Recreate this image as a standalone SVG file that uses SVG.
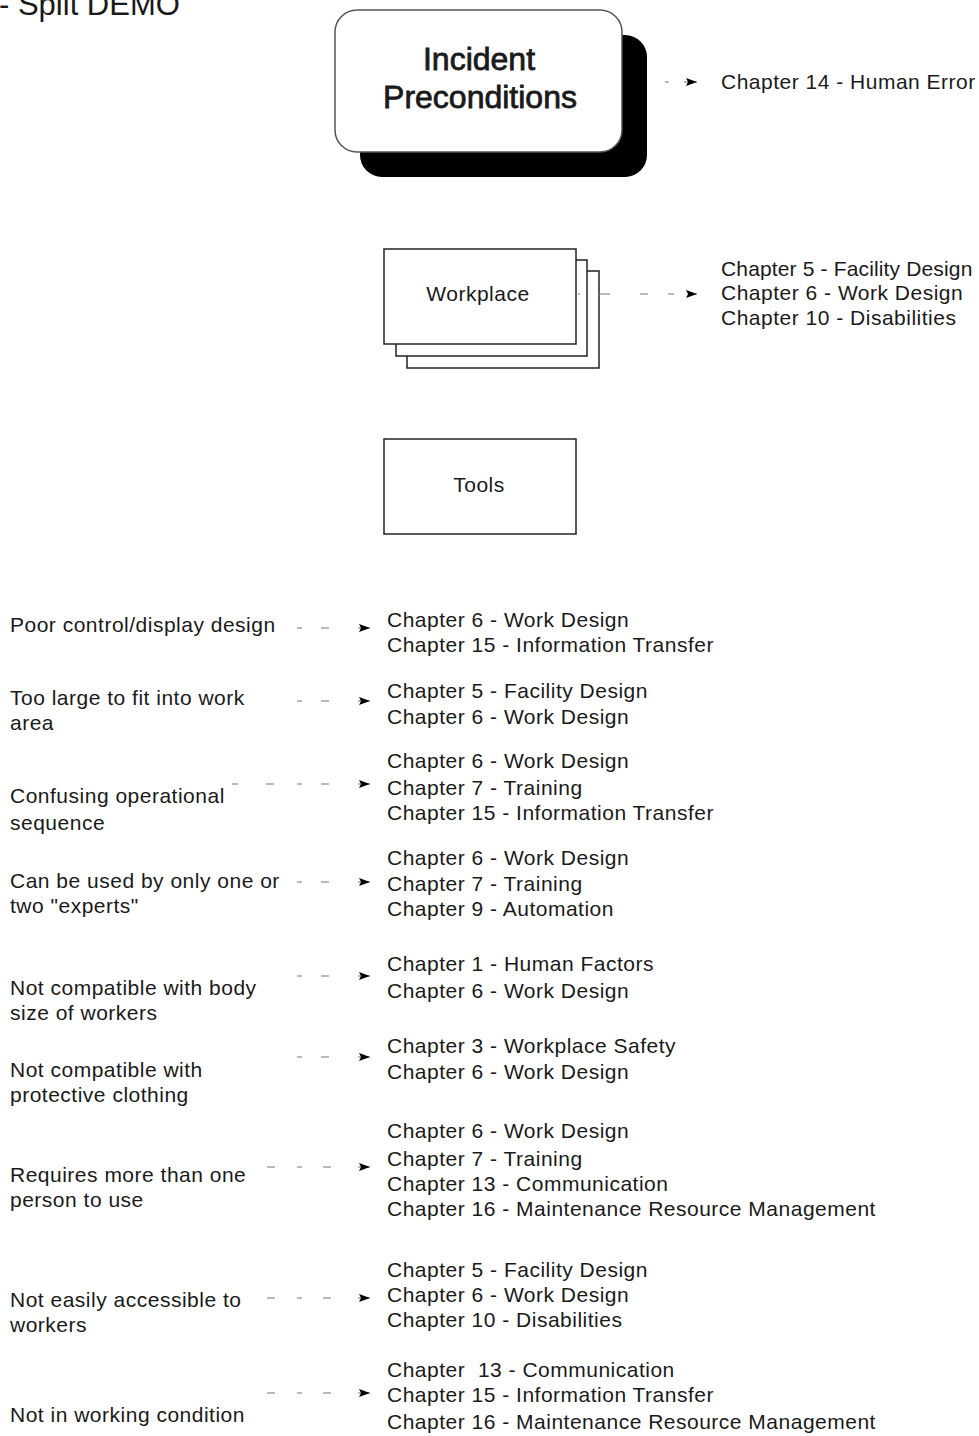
<svg xmlns="http://www.w3.org/2000/svg" width="979" height="1436" viewBox="0 0 979 1436">
  <style>
    text { font-family: "Liberation Sans", Arial, sans-serif; fill: #1a1a1a; }
    .t { font-size: 21px; letter-spacing: 0.5px; }
    .tight { letter-spacing: 0.15px; }
    .title { font-size: 32px; text-anchor: middle; stroke: #1a1a1a; stroke-width: 0.8px; }
    .lbl { font-size: 21px; letter-spacing: 0.5px; text-anchor: middle; }
    .box { fill: #fff; stroke: #222; stroke-width: 1.5; }
    .dots { fill: none; stroke: #777; stroke-width: 1.2; }
    .head { fill: #000; }
  </style>
  <defs>
    <marker id="arrow" viewBox="0 0 11 8" refX="11" refY="4" markerWidth="11" markerHeight="8" markerUnits="userSpaceOnUse" orient="auto">
      <path class="head" d="M0,0 L11,4 L0,8 L2,4 z"/>
    </marker>
  </defs>
  <rect width="979" height="1436" fill="#fff"/>

  <text x="-1" y="15" font-size="31">- Split DEMO</text>

  <!-- main node with drop shadow -->
  <g id="node-incident">
    <rect x="360" y="35" width="287" height="142" rx="22" fill="#000"/>
    <rect x="335" y="10" width="287" height="142" rx="22" fill="#fff" stroke="#555" stroke-width="1.5"/>
    <text class="title" x="479" y="70">Incident</text>
    <text class="title" x="480" y="108">Preconditions</text>
  </g>

  <!-- stacked node -->
  <g id="node-workplace">
    <rect class="box" x="407" y="271" width="192" height="97"/>
    <rect class="box" x="396" y="260" width="191" height="96"/>
    <rect class="box" x="384" y="249" width="192" height="95"/>
    <text class="lbl" x="478" y="301">Workplace</text>
  </g>

  <g id="node-tools">
    <rect class="box" x="384" y="439" width="192" height="95"/>
    <text class="lbl" x="479" y="492">Tools</text>
  </g>

  <!-- chapter references -->
  <g id="refs-incident">
    <text class="t" x="721" y="89">Chapter 14 - Human Error</text>
  </g>
  <g id="refs-workplace">
    <text class="t tight" x="721" y="276">Chapter 5 - Facility Design</text>
    <text class="t" x="721" y="300">Chapter 6 - Work Design</text>
    <text class="t" x="721" y="325">Chapter 10 - Disabilities</text>
  </g>

  <!-- tool problems -->
  <g id="item-1">
    <text class="t" x="10" y="632">Poor control/display design</text>
    <text class="t" x="387" y="627">Chapter 6 - Work Design</text>
    <text class="t" x="387" y="652">Chapter 15 - Information Transfer</text>
  </g>
  <g id="item-2">
    <text class="t" x="10" y="705">Too large to fit into work</text>
    <text class="t" x="10" y="730">area</text>
    <text class="t" x="387" y="698">Chapter 5 - Facility Design</text>
    <text class="t" x="387" y="724">Chapter 6 - Work Design</text>
  </g>
  <g id="item-3">
    <text class="t" x="10" y="803">Confusing operational</text>
    <text class="t" x="10" y="830">sequence</text>
    <text class="t" x="387" y="768">Chapter 6 - Work Design</text>
    <text class="t" x="387" y="795">Chapter 7 - Training</text>
    <text class="t" x="387" y="820">Chapter 15 - Information Transfer</text>
  </g>
  <g id="item-4">
    <text class="t" x="10" y="888">Can be used by only one or</text>
    <text class="t" x="10" y="913">two "experts"</text>
    <text class="t" x="387" y="865">Chapter 6 - Work Design</text>
    <text class="t" x="387" y="891">Chapter 7 - Training</text>
    <text class="t" x="387" y="916">Chapter 9 - Automation</text>
  </g>
  <g id="item-5">
    <text class="t" x="10" y="995">Not compatible with body</text>
    <text class="t" x="10" y="1020">size of workers</text>
    <text class="t" x="387" y="971">Chapter 1 - Human Factors</text>
    <text class="t" x="387" y="998">Chapter 6 - Work Design</text>
  </g>
  <g id="item-6">
    <text class="t" x="10" y="1077">Not compatible with</text>
    <text class="t" x="10" y="1102">protective clothing</text>
    <text class="t" x="387" y="1053">Chapter 3 - Workplace Safety</text>
    <text class="t" x="387" y="1079">Chapter 6 - Work Design</text>
  </g>
  <g id="item-7">
    <text class="t" x="10" y="1182">Requires more than one</text>
    <text class="t" x="10" y="1207">person to use</text>
    <text class="t" x="387" y="1138">Chapter 6 - Work Design</text>
    <text class="t" x="387" y="1166">Chapter 7 - Training</text>
    <text class="t" x="387" y="1191">Chapter 13 - Communication</text>
    <text class="t" x="387" y="1216">Chapter 16 - Maintenance Resource Management</text>
  </g>
  <g id="item-8">
    <text class="t" x="10" y="1307">Not easily accessible to</text>
    <text class="t" x="10" y="1332">workers</text>
    <text class="t" x="387" y="1277">Chapter 5 - Facility Design</text>
    <text class="t" x="387" y="1302">Chapter 6 - Work Design</text>
    <text class="t" x="387" y="1327">Chapter 10 - Disabilities</text>
  </g>
  <g id="item-9">
    <text class="t" x="10" y="1422">Not in working condition</text>
    <text class="t" x="387" y="1377">Chapter&#160; 13 - Communication</text>
    <text class="t" x="387" y="1402">Chapter 15 - Information Transfer</text>
    <text class="t" x="387" y="1429">Chapter 16 - Maintenance Resource Management</text>
  </g>

  <!-- dotted connectors ending in arrowheads -->
  <g id="connectors">
    <path class="dots" d="M665,82h4 M684,82h13" marker-end="url(#arrow)"/>
    <path class="dots" d="M578,294h2 M598,294h12 M640,294h8 M668,294h6 M688,294h9" marker-end="url(#arrow)"/>
    <path class="dots" d="M297,628h5 M321,628h8 M358,628h12" marker-end="url(#arrow)"/>
    <path class="dots" d="M297,701h5 M321,701h8 M358,701h12" marker-end="url(#arrow)"/>
    <path class="dots" d="M232,784h6 M266,784h8 M297,784h5 M321,784h8 M358,784h12" marker-end="url(#arrow)"/>
    <path class="dots" d="M297,882h5 M321,882h8 M358,882h12" marker-end="url(#arrow)"/>
    <path class="dots" d="M297,976h5 M321,976h8 M358,976h12" marker-end="url(#arrow)"/>
    <path class="dots" d="M297,1057h5 M321,1057h8 M358,1057h12" marker-end="url(#arrow)"/>
    <path class="dots" d="M267,1167h8 M297,1167h5 M323,1167h8 M358,1167h12" marker-end="url(#arrow)"/>
    <path class="dots" d="M267,1298h8 M297,1298h5 M323,1298h8 M358,1298h12" marker-end="url(#arrow)"/>
    <path class="dots" d="M267,1393h8 M297,1393h5 M323,1393h8 M358,1393h12" marker-end="url(#arrow)"/>
  </g>
</svg>
